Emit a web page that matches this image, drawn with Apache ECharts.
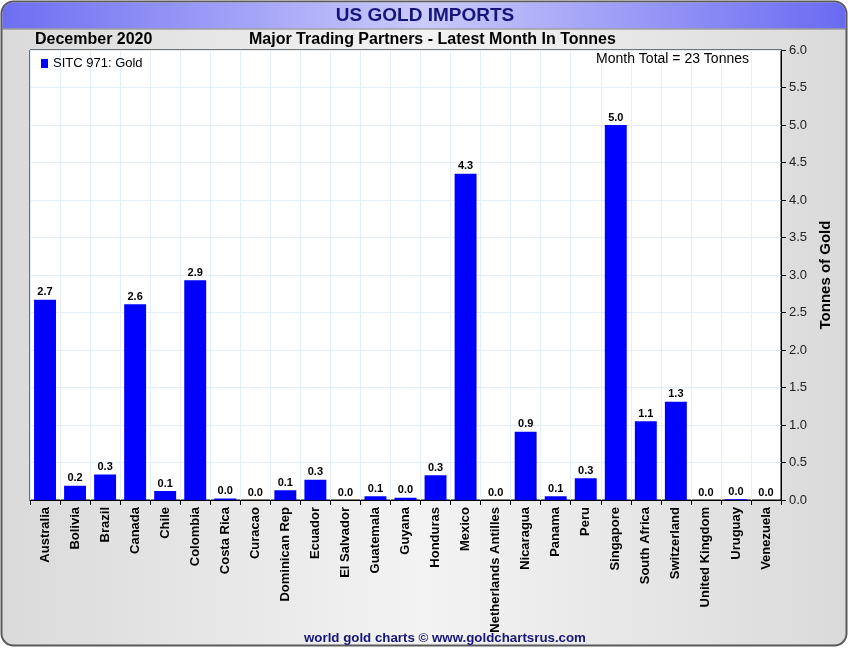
<!DOCTYPE html>
<html>
<head>
<meta charset="utf-8">
<script src="https://cdn.jsdelivr.net/npm/echarts@6/dist/echarts.min.js"></script>
<style>html,body{margin:0;padding:0;background:#fff}#c{width:850px;height:650px}</style>
</head>
<body>
<div id="c"></div>
<script>
const categories = ["Australia","Bolivia","Brazil","Canada","Chile","Colombia","Costa Rica","Curacao","Dominican Rep","Ecuador","El Salvador","Guatemala","Guyana","Honduras","Mexico","Netherlands Antilles","Nicaragua","Panama","Peru","Singapore","South Africa","Switzerland","United Kingdom","Uruguay","Venezuela"];
const goldTonnes = [2.67,0.19,0.34,2.61,0.12,2.93,0.02,0.0,0.13,0.27,0.0,0.05,0.03,0.33,4.35,0.0,0.91,0.05,0.29,5.0,1.05,1.31,0.0,0.01,0.0];
const seriesName = "SITC 971: Gold";
const yTicks = {min:0, max:6, interval:0.5};

const sans = "'Liberation Sans',Arial,sans-serif";
const chart = echarts.init(document.getElementById('c'));
chart.setOption({
  animation:false,
  backgroundColor:'#ffffff',
  graphic:[
    {type:'rect', z:-10, shape:{x:1.5,y:1.5,width:845,height:644,r:12},
     style:{fill:new echarts.graphic.LinearGradient(0,0,1,0,[{offset:0,color:'#dadada'},{offset:0.5,color:'#f3f3f3'},{offset:1,color:'#dadada'}]),stroke:'#5a5a5a',lineWidth:2}},
    {type:'rect', z:-9, shape:{x:2.5,y:2.5,width:843,height:26,r:[11,11,0,0]},
     style:{fill:new echarts.graphic.LinearGradient(0,0,1,0,[{offset:0,color:'#6e6ef2'},{offset:0.5,color:'#cacafc'},{offset:1,color:'#6a6af2'}])}},
    {type:'line', z:-8, shape:{x1:2,y1:29,x2:846,y2:29}, style:{stroke:'#7a7a7a',lineWidth:1}}
  ],
  title:[
    {text:'US GOLD IMPORTS', left:'center', top:6, padding:0, textStyle:{fontFamily:sans,fontSize:19,fontWeight:'bold',color:'#16167a'}},
    {text:'December 2020', left:35, top:32, padding:0, textStyle:{fontFamily:sans,fontSize:16,fontWeight:'bold',color:'#000'}},
    {text:'Major Trading Partners - Latest Month In Tonnes', left:249, top:32, padding:0, textStyle:{fontFamily:sans,fontSize:16,fontWeight:'bold',color:'#000'}},
    {text:'Month Total = 23 Tonnes', right:101, top:52, padding:0, textStyle:{fontFamily:sans,fontSize:14,fontWeight:'normal',color:'#000'}},
    {text:'world gold charts \u00a9 www.goldchartsrus.com', left:304, top:632, padding:0, textStyle:{fontFamily:sans,fontSize:13.3,fontWeight:'bold',color:'#16167a'}}
  ],
  legend:{show:true, left:36, top:52, icon:'rect', itemWidth:7, itemHeight:9, itemGap:5,
    textStyle:{fontFamily:sans,fontSize:13,color:'#000'}, data:[seriesName]},
  grid:{left:30, right:69, top:50, bottom:150, show:true, backgroundColor:'#ffffff', borderColor:'#000', borderWidth:1},
  xAxis:{type:'category', data:categories,
    axisLine:{lineStyle:{color:'#000'}},
    axisTick:{show:true, alignWithLabel:false, interval:0, length:5, lineStyle:{color:'#000'}},
    splitLine:{show:true, interval:0, lineStyle:{color:'#e2eff8'}},
    axisLabel:{interval:0, rotate:90, fontFamily:sans, fontSize:13, fontWeight:'bold', color:'#000', margin:7}},
  yAxis:{type:'value', position:'right', min:yTicks.min, max:yTicks.max, interval:yTicks.interval,
    name:'Tonnes of Gold', nameLocation:'middle', nameRotate:90, nameGap:37,
    nameTextStyle:{fontFamily:sans,fontSize:15,fontWeight:'bold',color:'#000'},
    axisLine:{show:true, lineStyle:{color:'#000'}},
    axisTick:{show:true, length:5, lineStyle:{color:'#000'}},
    splitLine:{show:true, lineStyle:{color:'#e2eff8'}},
    axisLabel:{fontFamily:sans, fontSize:13, color:'#222', margin:8, formatter:v=>v.toFixed(1)}},
  series:[{name:seriesName, type:'bar', data:goldTonnes, barWidth:'73%',
    itemStyle:{color:'#0000ff'},
    label:{show:true, position:'top', distance:2, fontFamily:sans, fontSize:11, fontWeight:'bold', color:'#000',
      formatter:p=>p.value.toFixed(1)}}]
});
</script>
</body>
</html>
